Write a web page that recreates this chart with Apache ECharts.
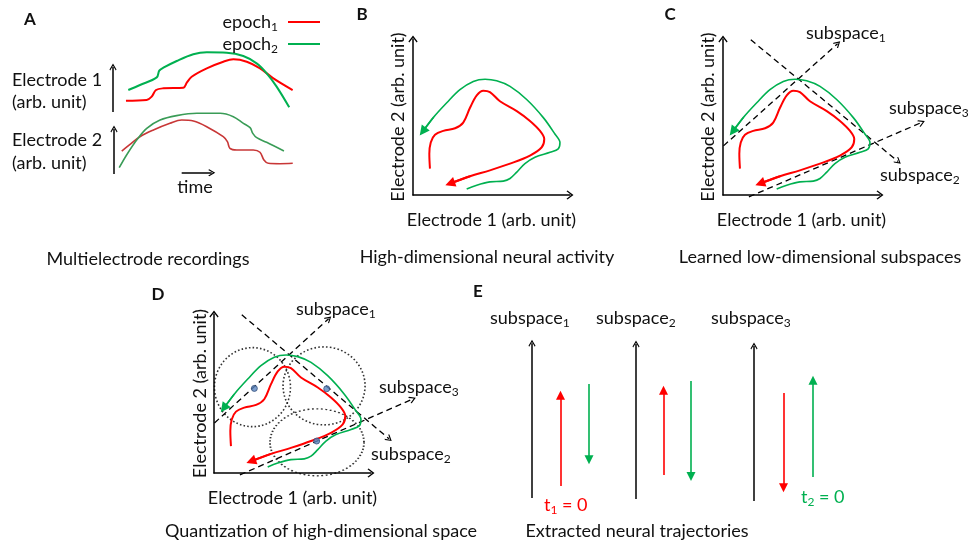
<!DOCTYPE html>
<html>
<head>
<meta charset="utf-8">
<script src="https://cdn.jsdelivr.net/npm/echarts@6/dist/echarts.min.js"></script>
<style>
  html, body { margin: 0; padding: 0; background: #ffffff; }
  #chart { width: 972px; height: 546px; }
</style>
</head>
<body>
<div id="chart"></div>
<script>
// ---------- Panel A: recorded activity over time (time, activity in arb. units) ----------
const e1Epoch1 = [[7.2,17.1],[18.7,18.2],[21.5,23.2],[23.9,33.3],[28,35.9],[39.1,36.8],[41,44.4],[43.7,53.5],[52.1,66.2],[61.3,76.2],[66.9,79.8],[74.3,76.2],[81.7,66.2],[89.1,51],[99.8,33.3]];
const e1Epoch2 = [[8.5,33.3],[15,40.9],[24.3,52.5],[25.7,62.6],[28,67.1],[35.4,77.3],[44.6,87.4],[52.1,90.4],[63.2,89.8],[72.4,84.8],[79.8,73.7],[85.4,58.6],[90.9,38.4],[97.9,7.1]];
const e2Epoch1 = [[4.3,34.8],[8.9,44.9],[14.4,56.5],[21.9,66.7],[31.1,76.8],[37.6,81.8],[44.1,80.3],[51.5,71.7],[60.7,56.5],[63,48.9],[64.4,38.9],[68.1,36.4],[77.4,36.4],[81.1,32.9],[83.3,21.2],[85.7,16.2],[92.2,15.6],[99.3,16.2]];
const e2Epoch2 = [[2.9,9.5],[7,28.8],[12.6,51.5],[18.2,69.2],[25.6,81.8],[34.8,88.4],[46,92],[58.9,92],[66.3,86.9],[71.9,76.8],[75.6,70.2],[77.1,61.6],[79.3,55],[84.8,48],[94.4,34.8]];
const activityArrow = [[0, 0], [0, 68]];
const timeArrow = [[37.6, 2], [54.3, 2]];

// ---------- Panels B-D: trajectories in the (Electrode 1, Electrode 2) plane ----------
const trajEpoch1 = [[10.8,16.9],[10.4,26.4],[11.3,33.7],[14.0,38.6],[19.3,41.1],[26.8,42.8],[32.0,46.4],[36.3,55.9],[40.6,63.9],[44.8,66.9],[49.0,66.0],[55.4,60.1],[66.1,53.8],[74.5,47.5],[80.9,41.1],[83.6,35.9],[82.0,30.6],[74.5,25.3],[61.8,20.1],[49.0,15.8],[36.3,12.0],[23.6,7.4]];
const trajEpoch2 = [[34.2,3.8],[40.6,6.3],[49.0,8.4],[57.5,8.9],[61.8,10.6],[66.1,14.7],[71.3,20.1],[77.7,24.2],[87.3,27.4],[92.5,29.6],[93.6,33.7],[90.4,39.1],[83.0,49.6],[72.4,61.2],[61.8,69.6],[53.3,73.2],[45.9,74.2],[38.4,72.8],[29.9,67.5],[21.5,59.1],[12.9,49.6],[6.2,40.7]];

// learned subspace directions (start, end) in the same plane
const subspaceLines = [
  [[0.3, 31.5], [73, 97]],       // subspace 1
  [[17.7, 99.5], [111.5, 21.5]], // subspace 2
  [[16.5, -1.2], [126.5, 46.5]]  // subspace 3
];
// quantization cells of panel D (centres) and their prototypes
const cellCentres = [[24.5, 54.0], [70.1, 54.8], [65.6, 19.3]];
const prototypes = [[25.7, 53.2], [71.8, 53.0], [65.4, 20.1]];

// ---------- Panel E: projections onto each subspace (start, end) ----------
const subspaceNames = ['1', '2', '3'];
const subspaceAxisSpan = [[4.2, 98], [3.6, 97.6], [2.4, 96.4]];
const projEpoch1 = [[11.5, 66.5], [18.2, 69.5], [67.9, 10.5]];
const projEpoch2 = [[73.3, 27.5], [75.2, 17.2], [17.0, 75.6]];

// ---------- styling ----------
const FONT = 'Lato';
const FS = 18;
const INK = '#111111';
const RED = '#ff0000';
const GREEN = '#00b050';
const RED_DARK = '#c83737';
const GREEN_DARK = '#3a9c57';
const CHEVRON = 'path://M5 0L10 6.5L9 7.6L5 2.4L1 7.6L0 6.5Z';

function richFor(color) {
  return {
    m: { fontFamily: FONT, fontSize: FS, lineHeight: 22, color },
    s: { fontFamily: FONT, fontSize: 12, lineHeight: 13, verticalAlign: 'bottom', color }
  };
}
function sub(word, idx) { return '{m|' + word + '}{s|' + idx + '}'; }

const grids = [
  { left: 113, top: 46, width: 180, height: 66 },   // 0 A electrode 1
  { left: 114, top: 108, width: 180, height: 66 },  // 1 A electrode 2
  { left: 413, top: 39, width: 157, height: 156 },  // 2 B
  { left: 723, top: 39, width: 157, height: 156 },  // 3 C
  { left: 214, top: 314, width: 157, height: 159 }, // 4 D
  { left: 532, top: 340, width: 57, height: 165 },  // 5 E subspace 1
  { left: 636, top: 340, width: 55, height: 165 },  // 6 E subspace 2
  { left: 754, top: 340, width: 59, height: 165 }   // 7 E subspace 3
];

const hiddenAxis = (min, max) => ({ type: 'value', min, max, show: false });
function stateAxis(dim, name, gap) {
  return {
    type: 'value', min: 0, max: 100,
    name, nameLocation: 'middle', nameGap: gap,
    nameRotate: dim === 'y' ? 90 : 0,
    nameTextStyle: { fontFamily: FONT, fontSize: FS, color: INK },
    axisLine: { show: true, onZero: false, symbol: ['none', CHEVRON], symbolSize: [10, 7],
      lineStyle: { color: '#000', width: 1.5 } },
    axisTick: { show: false }, axisLabel: { show: false }, splitLine: { show: false }
  };
}

const xAxes = [
  hiddenAxis(0, 100), hiddenAxis(0, 100),
  stateAxis('x', 'Electrode 1 (arb. unit)', 16),
  stateAxis('x', 'Electrode 1 (arb. unit)', 16),
  stateAxis('x', 'Electrode 1 (arb. unit)', 16),
  hiddenAxis(0, 1), hiddenAxis(0, 1), hiddenAxis(0, 1)
].map((a, i) => Object.assign(a, { gridIndex: i }));
const yAxes = [
  hiddenAxis(0, 100), hiddenAxis(0, 100),
  stateAxis('y', 'Electrode 2 (arb. unit)', 6),
  stateAxis('y', 'Electrode 2 (arb. unit)', 6),
  stateAxis('y', 'Electrode 2 (arb. unit)', 5),
  hiddenAxis(0, 100), hiddenAxis(0, 100), hiddenAxis(0, 100)
].map((a, i) => Object.assign(a, { gridIndex: i }));

const series = [];

function curve(name, data, g, color, width) {
  series.push({
    type: 'line', name, data, xAxisIndex: g, yAxisIndex: g,
    smooth: 0.35, showSymbol: false, symbol: 'none', clip: false, silent: true,
    lineStyle: { color, width }, itemStyle: { color }, z: 3
  });
}
function arrows(coordsList, g, color, width, head, headSize, dash, z) {
  series.push({
    type: 'lines', coordinateSystem: 'cartesian2d', xAxisIndex: g, yAxisIndex: g,
    clip: false, silent: true, z: z || 4,
    symbol: ['none', head], symbolSize: headSize,
    lineStyle: { color, width, type: dash || 'solid', opacity: 1 },
    data: coordsList.map(c => ({ coords: c }))
  });
}
const lastSeg = d => [d[d.length - 2], d[d.length - 1]];

// Panel A
curve('epoch1', e1Epoch1, 0, RED, 2);
curve('epoch2', e1Epoch2, 0, GREEN, 2);
curve('epoch1', e2Epoch1, 1, RED_DARK, 1.6);
curve('epoch2', e2Epoch2, 1, GREEN_DARK, 1.6);
arrows([activityArrow], 0, '#000', 1.5, CHEVRON, [9, 7]);
arrows([activityArrow, timeArrow], 1, '#000', 1.5, CHEVRON, [9, 7]);

// Panels B, C, D share the trajectories
const cellSymbolSizes = [[76, 79], [82, 78], [94, 67]];
[2, 3, 4].forEach(g => {
  if (g === 4) {
    series.push({
      type: 'scatter', xAxisIndex: g, yAxisIndex: g, data: cellCentres, silent: true, z: 1,
      symbol: 'circle',
      symbolSize: (v, p) => cellSymbolSizes[p.dataIndex],
      itemStyle: { color: 'rgba(0,0,0,0)', borderColor: '#000', borderWidth: 1.6, borderType: [1.6, 2.2] }
    });
  }
  if (g !== 2) arrows(subspaceLines, g, '#000', 1.3, CHEVRON, [9, 7], [6, 4], 2);
  curve('epoch1', trajEpoch1, g, RED, 2);
  curve('epoch2', trajEpoch2, g, GREEN, 1.6);
  arrows([lastSeg(trajEpoch1)], g, RED, 2, 'triangle', [7, 10]);
  arrows([lastSeg(trajEpoch2)], g, GREEN, 1.6, 'triangle', [7, 10]);
  if (g === 4) {
    series.push({
      type: 'scatter', xAxisIndex: g, yAxisIndex: g, data: prototypes, silent: true, z: 6,
      symbolSize: 6, itemStyle: { color: '#5b86c0', borderColor: '#34507a', borderWidth: 1 }
    });
  }
});

// Panel E
subspaceNames.forEach((n, i) => {
  const g = 5 + i;
  arrows([[[0, subspaceAxisSpan[i][0]], [0, subspaceAxisSpan[i][1]]]], g, '#000', 1.5, CHEVRON, [9, 7]);
  arrows([[[0.5, projEpoch1[i][0]], [0.5, projEpoch1[i][1]]]], g, RED, 1.6, 'triangle', [7, 9]);
  arrows([[[1, projEpoch2[i][0]], [1, projEpoch2[i][1]]]], g, GREEN, 1.6, 'triangle', [7, 9]);
});

// ---------- text ----------
function txt(x, y, text, opts) {
  opts = opts || {};
  const color = opts.color || INK;
  return {
    type: 'text', x, y, silent: true, z: 10,
    style: {
      text, fill: color, align: opts.align || 'left', verticalAlign: 'middle',
      fontFamily: FONT, fontSize: opts.bold ? 17 : FS, fontWeight: opts.bold ? 'bold' : 'normal',
      rich: opts.rich ? richFor(color) : undefined
    }
  };
}
const graphics = [
  txt(30, 20, 'A', { bold: true, align: 'center' }),
  txt(362, 15, 'B', { bold: true, align: 'center' }),
  txt(670, 15, 'C', { bold: true, align: 'center' }),
  txt(158, 295, 'D', { bold: true, align: 'center' }),
  txt(478, 292, 'E', { bold: true, align: 'center' }),
  txt(12, 80, 'Electrode 1'), txt(12, 102, '(arb. unit)'),
  txt(12, 140, 'Electrode 2'), txt(12, 163, '(arb. unit)'),
  txt(195, 187, 'time', { align: 'center' }),
  txt(148, 259, 'Multielectrode recordings', { align: 'center' }),
  txt(487, 257, 'High-dimensional neural activity', { align: 'center' }),
  txt(820, 257, 'Learned low-dimensional subspaces', { align: 'center' }),
  txt(321, 531, 'Quantization of high-dimensional space', { align: 'center' }),
  txt(637, 531, 'Extracted neural trajectories', { align: 'center' }),
  // subspace labels, panel C
  txt(806, 33, sub('subspace', 1), { rich: true }),
  txt(889, 108, sub('subspace', 3), { rich: true }),
  txt(880, 175, sub('subspace', 2), { rich: true }),
  // subspace labels, panel D
  txt(296, 309, sub('subspace', 1), { rich: true }),
  txt(379, 387, sub('subspace', 3), { rich: true }),
  txt(371, 454, sub('subspace', 2), { rich: true }),
  // panel E
  txt(490, 318, sub('subspace', 1), { rich: true }),
  txt(596, 318, sub('subspace', 2), { rich: true }),
  txt(711, 318, sub('subspace', 3), { rich: true }),
  txt(544, 505, sub('t', 1) + '{m| = 0}', { rich: true, color: RED }),
  txt(801, 497, sub('t', 2) + '{m| = 0}', { rich: true, color: GREEN })
];

const chart = echarts.init(document.getElementById('chart'), null, { renderer: 'canvas' });
chart.setOption({
  animation: false,
  backgroundColor: '#ffffff',
  textStyle: { fontFamily: FONT },
  grid: grids,
  xAxis: xAxes,
  yAxis: yAxes,
  legend: {
    data: ['epoch1', 'epoch2'], orient: 'vertical', right: 647, top: 8,
    align: 'right', icon: 'rect', itemWidth: 32, itemHeight: 2, itemGap: 2,
    selectedMode: false,
    formatter: n => sub('epoch', n.slice(-1)),
    textStyle: { color: INK, padding: [0, 5, 0, 0], rich: richFor(INK) }
  },
  series,
  graphic: graphics
});
</script>
</body>
</html>
